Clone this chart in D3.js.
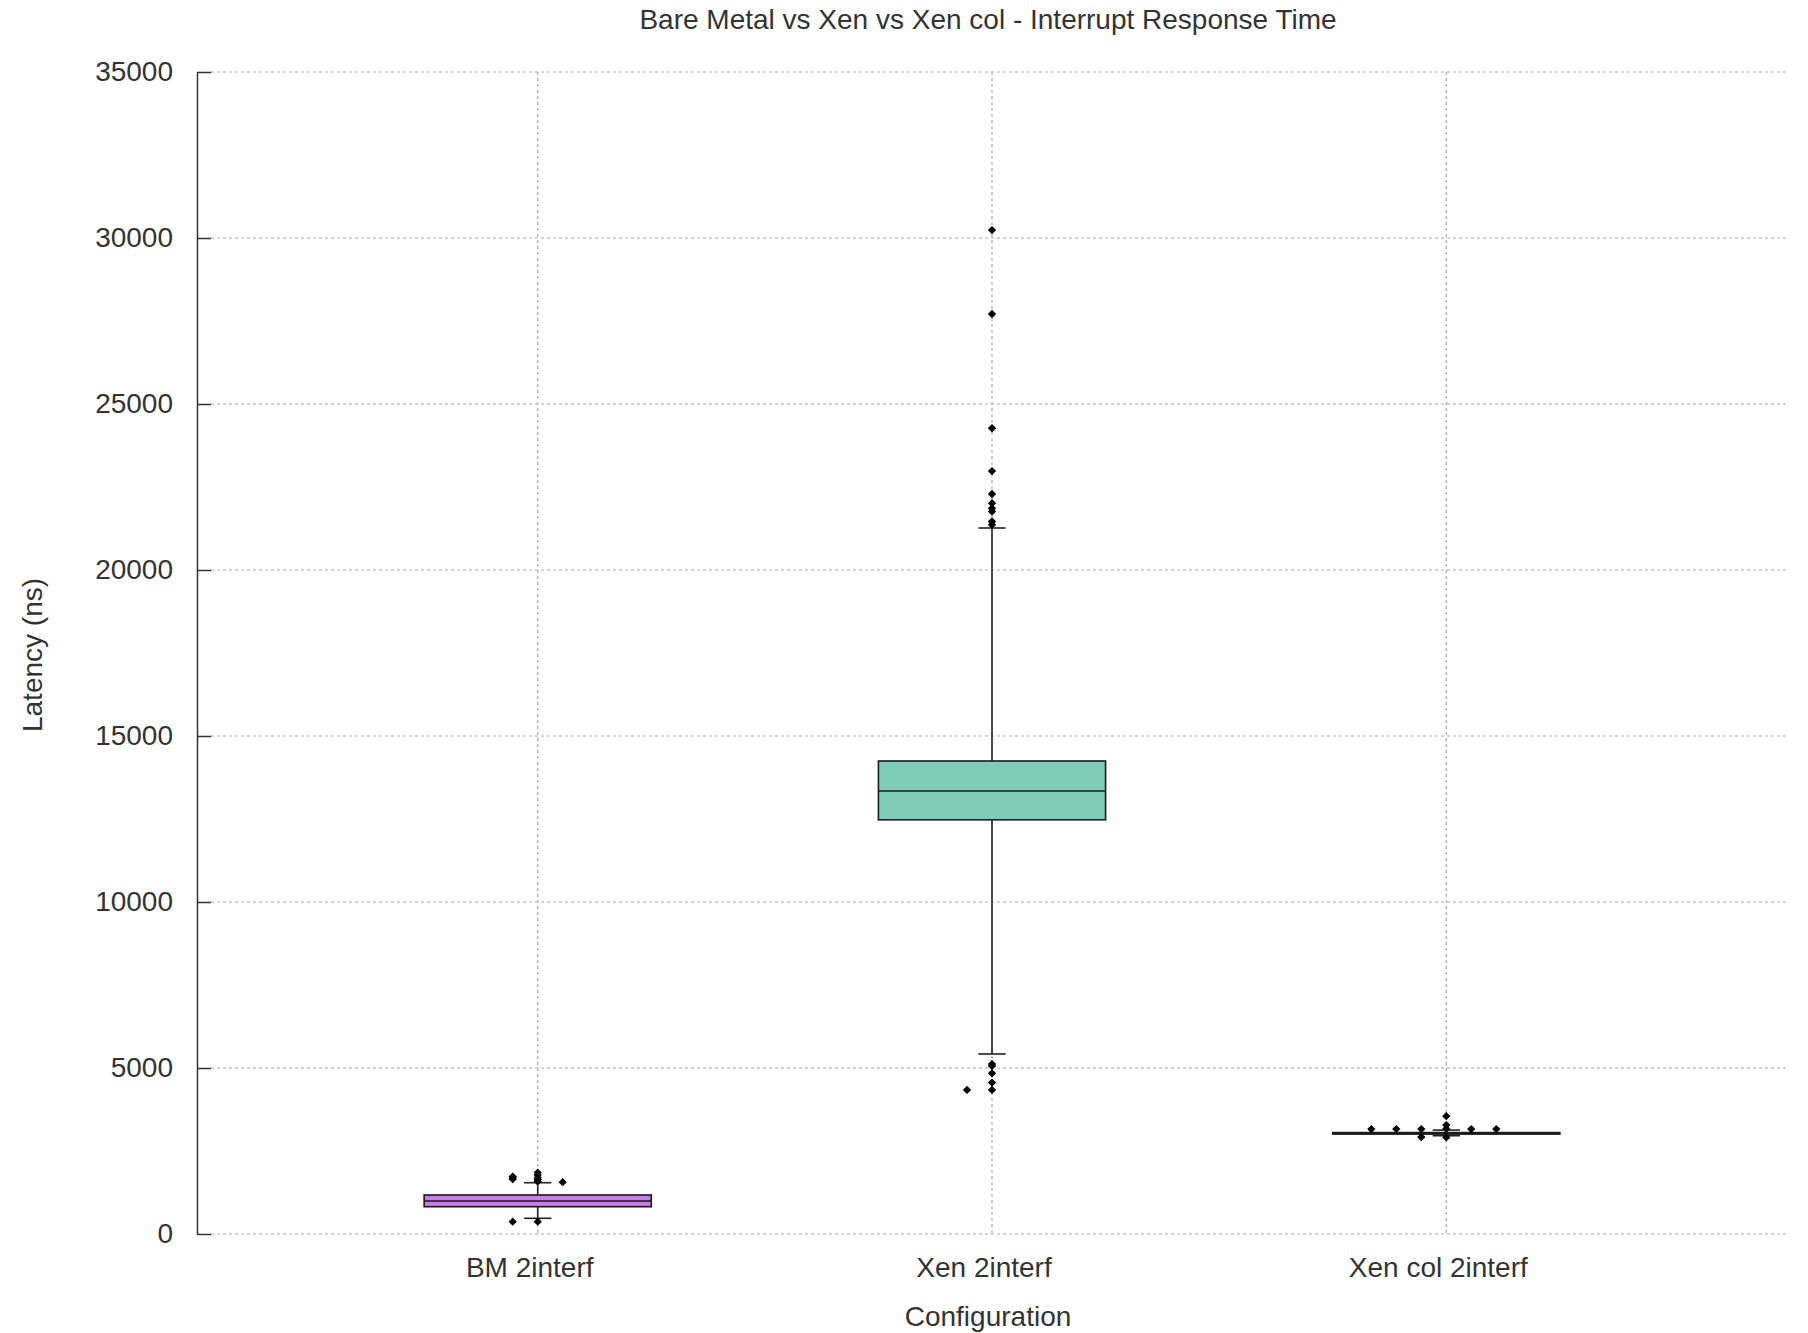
<!DOCTYPE html>
<html>
<head>
<meta charset="utf-8">
<script src="https://cdn.jsdelivr.net/npm/d3@7"></script>
<style>
  html, body { margin: 0; padding: 0; background: #fff; }
  svg text { font-family: "Liberation Sans", Arial, sans-serif; fill: #333; }
</style>
</head>
<body>
<div id="chart"></div>
<script>
// box plot summary per configuration
const categories = ["BM 2interf", "Xen 2interf", "Xen col 2interf"];
const whiskerLow = [473, 5422, 2960];
const q1 = [822, 12476, 3010];
const median = [994, 13343, 3030];
const q3 = [1175, 14247, 3055];
const whiskerHigh = [1545, 21265, 3130];
// outliers: [latency, jitter slot]
const outliers = [
  [[1650, -1], [1700, -1], [1730, -1], [1580, 0], [1640, 0], [1700, 0], [1780, 0], [1850, 0], [1560, 1], [370, -1], [370, 0]],
  [[30240, 0], [27710, 0], [24270, 0], [22980, 0], [22290, 0], [22010, 0], [21860, 0], [21760, 0], [21460, 0], [21360, 0],
   [5120, 0], [5060, 0], [4840, 0], [4560, 0], [4340, 0], [4340, -1]],
  [[3160, -3], [3160, -2], [3160, -1], [2920, -1], [3550, 0], [3280, 0], [3170, 0], [2910, 0], [3160, 1], [3160, 2]]
];
const yTicks = [0, 5000, 10000, 15000, 20000, 25000, 30000, 35000];
const fills = ["#c97de9", "#7fcdb8", "#e0a060"];

const width = 1808, height = 1333;
const mLeft = 197, mRight = 1787, mTop = 72, mBottom = 1234;

const svg = d3.select("#chart").append("svg")
  .attr("width", width)
  .attr("height", height);

const x = d3.scaleLinear().domain([0.25, 3.75]).range([mLeft, mRight]);
const y = d3.scaleLinear().domain([0, 35000]).range([mBottom, mTop]);

// grid
svg.append("g").selectAll("line")
  .data(yTicks)
  .enter().append("line")
  .attr("x1", mLeft + 14).attr("x2", mRight)
  .attr("y1", d => y(d)).attr("y2", d => y(d))
  .attr("stroke", "#aaa").attr("stroke-width", 1.2)
  .attr("stroke-dasharray", "3,3");

svg.append("g").selectAll("line")
  .data(categories)
  .enter().append("line")
  .attr("x1", (d, i) => x(i + 1)).attr("x2", (d, i) => x(i + 1))
  .attr("y1", mTop).attr("y2", mBottom)
  .attr("stroke", "#aaa").attr("stroke-width", 1.2)
  .attr("stroke-dasharray", "3,3");

// left axis
const yAxis = d3.axisLeft(y)
  .tickValues(yTicks)
  .tickFormat(d3.format("d"))
  .tickSizeInner(-14)
  .tickSizeOuter(0)
  .tickPadding(24);

const ag = svg.append("g")
  .attr("transform", `translate(${mLeft},0)`)
  .call(yAxis);
ag.select(".domain").attr("stroke", "#333").attr("stroke-width", 1.5);
ag.selectAll(".tick line").attr("stroke", "#333").attr("stroke-width", 1.5);
ag.selectAll(".tick text")
  .style("font-family", "'Liberation Sans', Arial, sans-serif")
  .attr("font-size", 28).attr("fill", "#333");

// boxes
const boxes = svg.append("g").selectAll("g")
  .data(categories)
  .enter().append("g");

const halfBox = 0.25, halfCap = 0.03;

boxes.append("line")
  .attr("x1", (d, i) => x(i + 1)).attr("x2", (d, i) => x(i + 1))
  .attr("y1", (d, i) => y(whiskerHigh[i])).attr("y2", (d, i) => y(q3[i]))
  .attr("stroke", "#222").attr("stroke-width", 1.6);
boxes.append("line")
  .attr("x1", (d, i) => x(i + 1)).attr("x2", (d, i) => x(i + 1))
  .attr("y1", (d, i) => y(q1[i])).attr("y2", (d, i) => y(whiskerLow[i]))
  .attr("stroke", "#222").attr("stroke-width", 1.6);

[whiskerHigh, whiskerLow].forEach(arr => {
  boxes.append("line")
    .attr("x1", (d, i) => x(i + 1 - halfCap)).attr("x2", (d, i) => x(i + 1 + halfCap))
    .attr("y1", (d, i) => y(arr[i])).attr("y2", (d, i) => y(arr[i]))
    .attr("stroke", "#222").attr("stroke-width", 1.6);
});

boxes.append("rect")
  .attr("x", (d, i) => x(i + 1 - halfBox))
  .attr("width", (d, i) => x(i + 1 + halfBox) - x(i + 1 - halfBox))
  .attr("y", (d, i) => y(q3[i]))
  .attr("height", (d, i) => y(q1[i]) - y(q3[i]))
  .attr("fill", (d, i) => fills[i])
  .attr("stroke", "#1a1a1a").attr("stroke-width", 1.6);

boxes.append("line")
  .attr("x1", (d, i) => x(i + 1 - halfBox)).attr("x2", (d, i) => x(i + 1 + halfBox))
  .attr("y1", (d, i) => y(median[i])).attr("y2", (d, i) => y(median[i]))
  .attr("stroke", "#1a1a1a").attr("stroke-width", 1.6);

// outliers
const jitterStep = 0.055;
const hasD2 = !!d3.symbolDiamond2;
const diamond = d3.symbol().type(hasD2 ? d3.symbolDiamond2 : d3.symbolSquare).size(44);
outliers.forEach((pts, i) => {
  svg.append("g").selectAll("path")
    .data(pts)
    .enter().append("path")
    .attr("d", diamond)
    .attr("transform", d => `translate(${x(i + 1 + d[1] * jitterStep)},${y(d[0])})` + (hasD2 ? "" : " rotate(45)"))
    .attr("fill", "#000");
});

// category labels
svg.append("g").selectAll("text")
  .data(categories)
  .enter().append("text")
  .attr("x", (d, i) => x(i + 1) - 8)
  .attr("y", 1277)
  .attr("text-anchor", "middle")
  .attr("font-size", 28)
  .text(d => d);

// titles
svg.append("text")
  .attr("x", 988).attr("y", 29)
  .attr("text-anchor", "middle")
  .attr("font-size", 28)
  .text("Bare Metal vs Xen vs Xen col - Interrupt Response Time");

svg.append("text")
  .attr("x", 988).attr("y", 1326)
  .attr("text-anchor", "middle")
  .attr("font-size", 28)
  .text("Configuration");

svg.append("text")
  .attr("transform", "translate(42,655) rotate(-90)")
  .attr("text-anchor", "middle")
  .attr("font-size", 28)
  .text("Latency (ns)");
</script>
</body>
</html>
